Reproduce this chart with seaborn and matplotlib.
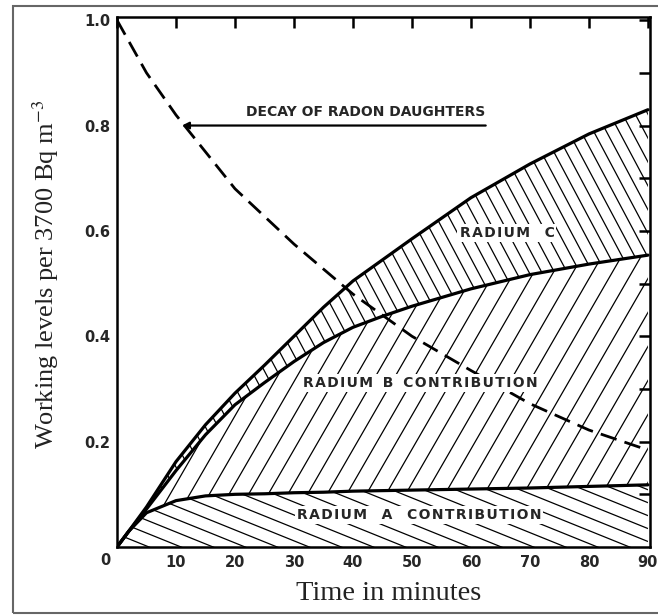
import numpy as np
import matplotlib
matplotlib.use('Agg')
import matplotlib.pyplot as plt
from matplotlib.collections import LineCollection
from matplotlib.patches import Rectangle
import seaborn as sns

# time in minutes and cumulative working levels
t = [0, 2, 5, 10, 15, 20, 25, 30, 35, 40, 45, 50, 60, 70, 80, 90]
radium_a = [0, 0.030, 0.065, 0.088, 0.097, 0.100, 0.101, 0.103, 0.104, 0.106, 0.107, 0.108,
            0.110, 0.112, 0.115, 0.118]
radium_ab = [0, 0.030, 0.072, 0.145, 0.213, 0.270, 0.312, 0.352, 0.388, 0.417, 0.438, 0.457,
             0.490, 0.517, 0.537, 0.554]
total_wl = [0, 0.030, 0.076, 0.162, 0.232, 0.292, 0.345, 0.400, 0.455, 0.505, 0.545, 0.585,
            0.663, 0.727, 0.784, 0.830]

# decay of radon daughters (dashed)
t_decay = [0, 5, 10, 20, 30, 40, 50, 60, 70, 80, 90]
decay = [1.0, 0.90, 0.82, 0.68, 0.575, 0.48, 0.40, 0.335, 0.272, 0.222, 0.184]

x_ticks = [0, 10, 20, 30, 40, 50, 60, 70, 80, 90]
x_labels = ['', '10', '20', '30', '40', '50', '60', '70', '80', '90']
y_ticks = [0.2, 0.4, 0.6, 0.8, 1.0]
y_labels = ['0.2', '0.4', '0.6', '0.8', '1.0']
y_minor = [0.1, 0.3, 0.5, 0.7, 0.9]

sns.set_style('white')
plt.rcParams['font.family'] = ['DejaVu Sans']
plt.rcParams['mathtext.fontset'] = 'stix'

fig = plt.figure(figsize=(6.58, 6.15), dpi=100)
ax = fig.add_axes([117 / 658, 68 / 615, 533 / 658, 530 / 615])


def hatch(ax, coll, angle, gap_px, lw=0.9):
    # parallel lines at a given angle (in pixels), clipped to a fill region
    pos = ax.get_position()
    W = pos.width * fig.get_figwidth() * fig.dpi
    H = pos.height * fig.get_figheight() * fig.dpi
    a = np.radians(angle)
    d = np.array([np.cos(a), np.sin(a)])
    n = np.array([-np.sin(a), np.cos(a)])
    corners = np.array([[0, 0], [W, 0], [0, H], [W, H]])
    proj = corners @ n
    L = W + H
    segs = []
    for c in np.arange(proj.min(), proj.max() + gap_px, gap_px):
        p0 = c * n - L * d
        p1 = c * n + L * d
        segs.append([(p0[0] / W, p0[1] / H), (p1[0] / W, p1[1] / H)])
    lc = LineCollection(segs, colors='black', linewidths=lw,
                        transform=ax.transAxes, zorder=1)
    ax.add_collection(lc, autolim=False)
    lc.set_clip_path(coll.get_paths()[0], coll.get_transform())


def spaced(s):
    # the original lettering is widely tracked
    return '\u200a'.join(s)


zeros = [0] * len(t)
fill_a = ax.fill_between(t, zeros, radium_a, facecolor='none', edgecolor='none')
fill_b = ax.fill_between(t, radium_a, radium_ab, facecolor='none', edgecolor='none')
fill_c = ax.fill_between(t, radium_ab, total_wl, facecolor='none', edgecolor='none')
hatch(ax, fill_a, -22, 12)
hatch(ax, fill_b, 60, 17)
hatch(ax, fill_c, -62, 11.2)

for series in [radium_a, radium_ab, total_wl]:
    sns.lineplot(x=t, y=series, color='black', linewidth=2.3, ax=ax, zorder=3)
sns.lineplot(x=t_decay, y=decay, color='black', linewidth=2.0,
             linestyle=(0, (6, 3)), ax=ax, zorder=3)

ax.set_xlim(0, 90.35)
ax.set_ylim(0, 1.006)

ax.set_xticks(x_ticks, x_labels, fontsize=10.5, fontweight='bold')
ax.set_yticks(y_ticks, y_labels, fontsize=10.5, fontweight='bold')
ax.set_yticks(y_minor, minor=True)
ax.tick_params(axis='both', which='both', direction='in', length=8, width=1.8,
               top=True, right=True, color='black')
ax.tick_params(axis='x', pad=6)
ax.tick_params(axis='y', pad=5)
ax.text(-0.022, -0.025, '0', transform=ax.transAxes, ha='center', va='center',
        fontsize=10.5, fontweight='bold')
for s in ax.spines.values():
    s.set_linewidth(1.8)
    s.set_color('black')

ax.set_ylabel('Working levels per 3700 Bq m$^{-3}$', fontsize=19,
              family='Liberation Serif', color='#222222')
ax.yaxis.set_label_coords(-0.106, 0.515)
ax.set_xlabel('Time in minutes', fontsize=20.5, family='Liberation Serif', color='#222222')
ax.xaxis.set_label_coords(0.51, -0.064)

lab = dict(fontsize=10, fontweight='bold', ha='center', va='center', zorder=4,
           bbox=dict(facecolor='white', edgecolor='none', pad=1.5))
ax.text(66.1, 0.596, spaced('RADIUM') + '   C', **lab)
ax.text(51.4, 0.311, spaced('RADIUM') + '  B  ' + spaced('CONTRIBUTION'), **lab)
ax.text(51.2, 0.061, spaced('RADIUM') + '   A   ' + spaced('CONTRIBUTION'), **lab)

ax.annotate('', xy=(11, 0.8), xytext=(62.5, 0.8),
            arrowprops=dict(arrowstyle='-|>', color='black', lw=1.6,
                            mutation_scale=10, shrinkA=0, shrinkB=0))
ax.text(62.5, 0.812, 'DECAY OF RADON DAUGHTERS', ha='right', va='bottom',
        fontsize=10, fontweight='bold')

fig.add_artist(Rectangle((13 / 658, 2 / 615), 1.0, 607 / 615, transform=fig.transFigure,
                         fill=False, edgecolor='#666666', linewidth=1.5))

fig.savefig('out.png', dpi=100, facecolor='white')
